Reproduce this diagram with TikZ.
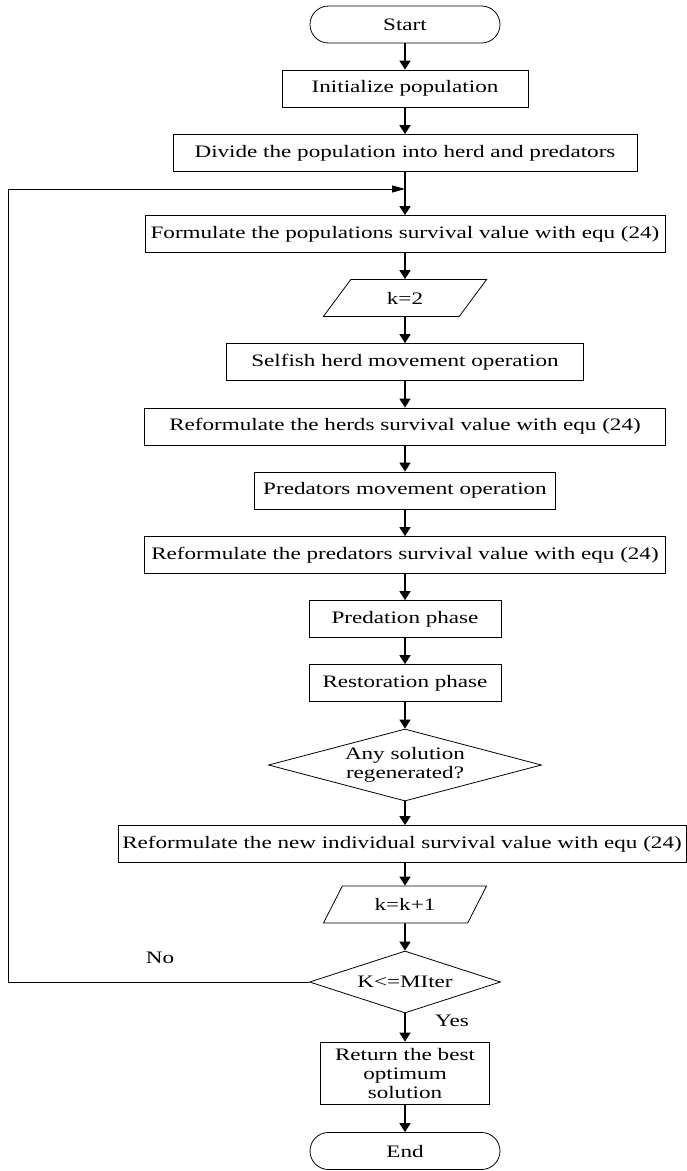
\documentclass[tikz,border=0pt]{standalone}
\usepackage{fontspec}
\setmainfont{Liberation Serif}[FakeStretch=1.32]
\usetikzlibrary{shapes.geometric,arrows.meta}
\tikzset{
  process/.style={draw,line width=0.8pt,minimum height=37pt,inner sep=0pt},
  term/.style={process,rounded corners=18.5pt,minimum width=190pt},
  io/.style={draw,line width=0.8pt,trapezium,trapezium left angle=53,trapezium right angle=127,
    trapezium stretches=true,minimum width=164pt,minimum height=37pt,inner sep=0pt},
  decision/.style={draw,line width=0.8pt,diamond,inner sep=0pt,align=center},
  flow/.style={line width=1.6pt,-{Triangle[width=11pt,length=9pt]}},
  backflow/.style={line width=0.8pt,-{Triangle[width=7pt,length=13pt]}}
}
\begin{document}
\begin{tikzpicture}[x=1pt,y=-1pt,font=\fontsize{17.5}{19}\selectfont]
      \useasboundingbox (0,0) rectangle (687,1171);

      \node[term] (start) at (405,24.5) {Start};
      \node[process,minimum width=246pt] (init) at (405,88.5) {Initialize population};
      \node[process,minimum width=464pt] (divide) at (405,153) {Divide the population into herd and predators};
      \node[process,minimum width=520pt] (form) at (405,234) {Formulate the populations survival value with equ (24)};
      \node[io] (ktwo) at (405,298) {k=2};
      \node[process,minimum width=357pt] (selfish) at (405,362) {Selfish herd movement operation};
      \node[process,minimum width=521pt] (herds) at (405,426.5) {Reformulate the herds survival value with equ (24)};
      \node[process,minimum width=301pt] (predmove) at (405,490.5) {Predators movement operation};
      \node[process,minimum width=521pt] (predsurv) at (405,555) {Reformulate the predators survival value with equ (24)};
      \node[process,minimum width=192pt] (predation) at (405,619) {Predation phase};
      \node[process,minimum width=192pt] (restore) at (405,683) {Restoration phase};
      \node[decision,shape aspect=3.8,minimum width=273pt,minimum height=72pt] (regen) at (405,765) {Any solution\\regenerated?};
      \node[process,minimum width=568pt] (newind) at (402,844) {Reformulate the new individual survival value with equ (24)};
      \node[io] (knext) at (405,904.5) {k=k+1};
      \node[decision,shape aspect=3.1,minimum width=191pt,minimum height=62pt] (kmax) at (405,982) {K<=MIter};
      \node[process,minimum width=169pt,minimum height=62pt,align=center] (best) at (405,1073) {Return the best\\optimum\\solution};
      \node[term] (end) at (405,1151) {End};

      \node (no) at (160,958) {No};
      \node (yes) at (452,1021) {Yes};
      \coordinate (back) at (405,189);

      \draw[flow] (start) -- (init);
      \draw[flow] (init) -- (divide);
      \draw[flow] (divide) -- (form);
      \draw[flow] (form) -- (ktwo);
      \draw[flow] (ktwo) -- (selfish);
      \draw[flow] (selfish) -- (herds);
      \draw[flow] (herds) -- (predmove);
      \draw[flow] (predmove) -- (predsurv);
      \draw[flow] (predsurv) -- (predation);
      \draw[flow] (predation) -- (restore);
      \draw[flow] (restore) -- (regen);
      \draw[flow] (regen) -- (regen |- newind.north);
      \draw[flow] (regen |- newind.south) -- (knext);
      \draw[flow] (knext) -- (kmax);
      \draw[flow] (kmax) -- (best);
      \draw[flow] (best) -- (end);
      \draw[backflow] (kmax.west) -- ++(-301,0) |- (back);
    \end{tikzpicture}
\end{document}
